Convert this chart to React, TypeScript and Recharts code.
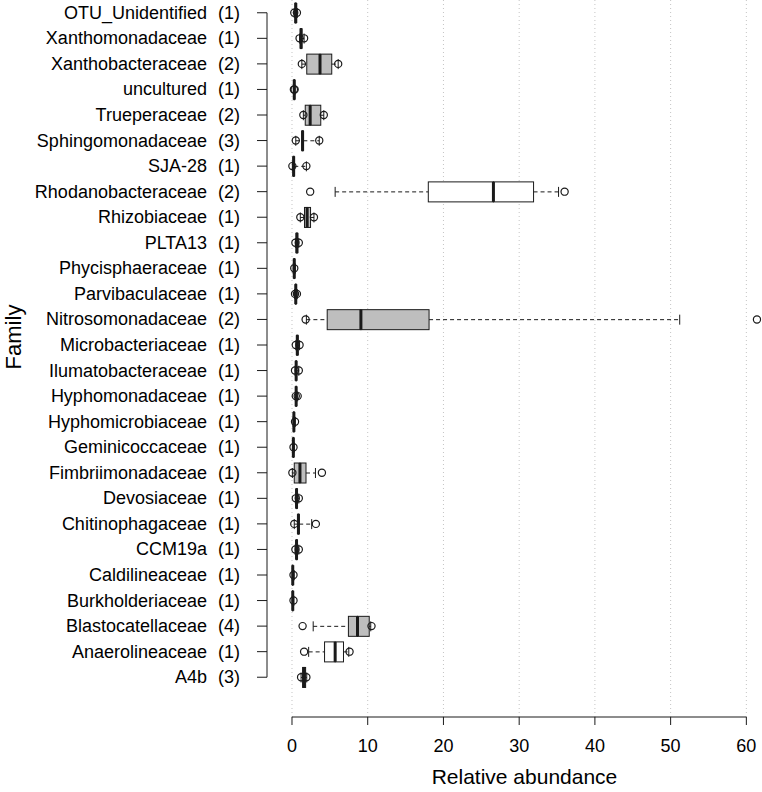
import { Bar, CartesianGrid, ComposedChart, Line, ReferenceLine, XAxis, YAxis } from "recharts"

const families = [
  "OTU_Unidentified", "Xanthomonadaceae", "Xanthobacteraceae", "uncultured", "Trueperaceae",
  "Sphingomonadaceae", "SJA-28", "Rhodanobacteraceae", "Rhizobiaceae", "PLTA13",
  "Phycisphaeraceae", "Parvibaculaceae", "Nitrosomonadaceae", "Microbacteriaceae", "Ilumatobacteraceae",
  "Hyphomonadaceae", "Hyphomicrobiaceae", "Geminicoccaceae", "Fimbriimonadaceae", "Devosiaceae",
  "Chitinophagaceae", "CCM19a", "Caldilineaceae", "Burkholderiaceae", "Blastocatellaceae",
  "Anaerolineaceae", "A4b",
]
const counts = [1, 1, 2, 1, 2, 3, 1, 2, 1, 1, 1, 1, 2, 1, 1, 1, 1, 1, 1, 1, 1, 1, 1, 1, 4, 1, 3]

// boxplot stats: lower whisker, q1, median, q3, upper whisker
const whiskerLow = [0.3, 1.0, 1.3, 0.2, 1.5, 0.5, 0.05, 5.7, 1.1, 0.45, 0.15, 0.35, 1.9, 0.5, 0.4, 0.45, 0.15, 0.1, 0.05, 0.45, 0.3, 0.4, 0.05, 0.05, 2.8, 2.2, 1.2]
const quart1 = [0.4, 1.1, 1.95, 0.25, 1.75, 1.3, 0.15, 18.0, 1.65, 0.55, 0.25, 0.45, 4.65, 0.6, 0.5, 0.5, 0.2, 0.15, 0.3, 0.55, 0.75, 0.55, 0.08, 0.08, 7.45, 4.3, 1.4]
const median = [0.5, 1.2, 3.7, 0.3, 2.4, 1.4, 0.22, 26.6, 2.0, 0.65, 0.3, 0.5, 9.1, 0.7, 0.55, 0.55, 0.25, 0.18, 1.05, 0.6, 0.85, 0.6, 0.1, 0.1, 8.65, 5.7, 1.6]
const quart3 = [0.55, 1.3, 5.25, 0.35, 3.8, 1.5, 0.3, 31.9, 2.45, 0.75, 0.35, 0.55, 18.1, 0.8, 0.6, 0.6, 0.3, 0.22, 1.85, 0.7, 0.95, 0.7, 0.12, 0.12, 10.2, 6.8, 1.8]
const whiskerHigh = [0.7, 1.6, 6.1, 0.4, 4.2, 3.6, 1.9, 35.2, 2.9, 0.9, 0.45, 0.7, 51.2, 1.0, 0.9, 0.75, 0.45, 0.3, 3.1, 0.9, 2.6, 0.9, 0.3, 0.25, 10.4, 7.5, 1.95]

// plotted sample points
const pointA = [0.3, 1.0, 1.3, 0.25, 1.5, 0.5, 0.05, 2.4, 1.1, 0.45, 0.3, 0.4, 1.8, 0.5, 0.4, 0.5, 0.4, 0.2, 0.05, 0.5, 0.3, 0.45, 0.2, 0.2, 1.4, 1.6, 1.2]
const pointB = [0.65, 1.6, 6.1, 0.35, 4.2, 3.6, 1.9, 36.0, 2.9, 0.9, null, 0.65, 61.4, 1.0, 0.9, 0.75, null, null, 3.95, 0.9, 3.15, 0.9, null, null, 10.5, 7.6, 1.9]

const greyBox = [1, 1, 1, 1, 1, 1, 1, 0, 1, 1, 1, 1, 1, 1, 1, 1, 1, 1, 1, 1, 1, 1, 1, 1, 1, 0, 1]

const xTicks = [0, 10, 20, 30, 40, 50, 60]

const CHART_W = 762
const CHART_H = 792
const YAXIS_W = 267
const XAXIS_H = 75
const RIGHT = 0.5
const X_MIN = -3.3
const X_MAX = 62
const PX_PER_UNIT = (CHART_W - YAXIS_W - RIGHT) / (X_MAX - X_MIN)
const AXIS_Y = CHART_H - XAXIS_H
const INK = "#1a1a1a"
const FONT = "'Liberation Sans', Arial, Helvetica, sans-serif"

const rows = families.map((family, i) => ({
  family,
  base: whiskerLow[i],
  wLo: quart1[i] - whiskerLow[i],
  boxLo: median[i] - quart1[i],
  boxHi: quart3[i] - median[i],
  wHi: whiskerHigh[i] - quart3[i],
  p1: pointA[i],
  p2: pointB[i],
  fill: greyBox[i] ? "#bebebe" : "#ffffff",
}))

// grid only at the labelled ticks, not at the plot edges
const gridX = xTicks.map((v) => YAXIS_W + (v - X_MIN) * PX_PER_UNIT)

const Empty = () => <g />

const WhiskerLow = (p: any) => {
  const cy = p.y + p.height / 2
  return (
    <g>
      <line x1={p.x} x2={p.x + p.width} y1={cy} y2={cy} stroke={INK} strokeDasharray="4 3" />
      <line x1={p.x} x2={p.x} y1={cy - 5} y2={cy + 5} stroke={INK} />
    </g>
  )
}

const WhiskerHigh = (p: any) => {
  const cy = p.y + p.height / 2
  const end = p.x + p.width
  return (
    <g>
      <line x1={p.x} x2={end} y1={cy} y2={cy} stroke={INK} strokeDasharray="4 3" />
      <line x1={end} x2={end} y1={cy - 5} y2={cy + 5} stroke={INK} />
    </g>
  )
}

const BoxLow = (p: any) => (
  <rect x={p.x} y={p.y} width={Math.max(p.width, 0)} height={p.height} fill={p.payload.fill} stroke={INK} />
)

const BoxHigh = (p: any) => (
  <g>
    <rect x={p.x} y={p.y} width={Math.max(p.width, 0)} height={p.height} fill={p.payload.fill} stroke={INK} />
    <line x1={p.x} x2={p.x} y1={p.y} y2={p.y + p.height} stroke={INK} strokeWidth={3} />
  </g>
)

const renderPoint = (props: any) => {
  const { cx, cy, value, index } = props
  if (cx == null || cy == null || value == null) return <g key={index} />
  return <circle key={index} cx={cx} cy={cy} r={3.6} fill="none" stroke={INK} strokeWidth={1.2} />
}

const FamilyTick = ({ x, y, payload, index }: any) => (
  <g>
    <text x={x - 50} y={y} dy={6} textAnchor="end" fontSize={18} fill="#000" fontFamily={FONT}>
      {payload.value}
    </text>
    <text x={x - 17} y={y} dy={6} textAnchor="end" fontSize={18} fill="#000" fontFamily={FONT}>
      ({counts[index]})
    </text>
  </g>
)

const AbundanceTick = ({ x, payload, index }: any) => (
  <g>
    {index > 0 && (
      <line x1={x - 10 * PX_PER_UNIT} x2={x} y1={AXIS_Y} y2={AXIS_Y} stroke={INK} />
    )}
    <line x1={x} x2={x} y1={AXIS_Y} y2={AXIS_Y + 8} stroke={INK} />
    <text x={x} y={AXIS_Y + 35} textAnchor="middle" fontSize={18} fill="#000" fontFamily={FONT}>
      {payload.value}
    </text>
  </g>
)

const XTitle = () => (
  <text x={YAXIS_W + (30.7 - X_MIN) * PX_PER_UNIT} y={784} textAnchor="middle" fontSize={21} fill="#000" fontFamily={FONT}>
    Relative abundance
  </text>
)

const YTitle = () => (
  <text x={21} y={337} transform="rotate(-90, 21, 337)" textAnchor="middle" fontSize={22} fill="#000" fontFamily={FONT}>
    Family
  </text>
)

export default function App() {
  return (
    <div style={{ position: "absolute", left: 0, top: 0, width: CHART_W, height: CHART_H, background: "#fff", fontFamily: FONT }}>
      <ComposedChart
        width={CHART_W}
        height={CHART_H}
        data={rows}
        layout="vertical"
        margin={{ top: 0, right: RIGHT, bottom: 0, left: 0 }}
      >
        <CartesianGrid horizontal={false} verticalPoints={gridX} stroke="#c4c4c4" strokeDasharray="1 3" />
        <XAxis
          type="number"
          domain={[X_MIN, X_MAX]}
          allowDataOverflow
          ticks={xTicks}
          interval={0}
          height={XAXIS_H}
          axisLine={false}
          tickLine={false}
          tick={AbundanceTick}
          label={XTitle}
        />
        <YAxis
          type="category"
          dataKey="family"
          width={YAXIS_W}
          interval={0}
          padding={{ top: 0, bottom: 27 }}
          axisLine={false}
          tickSize={10}
          tickMargin={0}
          tickLine={{ stroke: INK }}
          tick={FamilyTick}
          label={YTitle}
        />
        <ReferenceLine
          segment={[{ x: X_MIN, y: families[0] }, { x: X_MIN, y: families[families.length - 1] }]}
          stroke={INK}
          ifOverflow="visible"
        />
        <Bar dataKey="base" stackId="box" barSize={20} fill="none" shape={Empty} isAnimationActive={false} />
        <Bar dataKey="wLo" stackId="box" barSize={20} shape={WhiskerLow} isAnimationActive={false} />
        <Bar dataKey="boxLo" stackId="box" barSize={20} shape={BoxLow} isAnimationActive={false} />
        <Bar dataKey="boxHi" stackId="box" barSize={20} shape={BoxHigh} isAnimationActive={false} />
        <Bar dataKey="wHi" stackId="box" barSize={20} shape={WhiskerHigh} isAnimationActive={false} />
        <Line dataKey="p1" stroke="none" dot={renderPoint} activeDot={false} legendType="none" isAnimationActive={false} />
        <Line dataKey="p2" stroke="none" dot={renderPoint} activeDot={false} legendType="none" isAnimationActive={false} />
      </ComposedChart>
    </div>
  )
}
